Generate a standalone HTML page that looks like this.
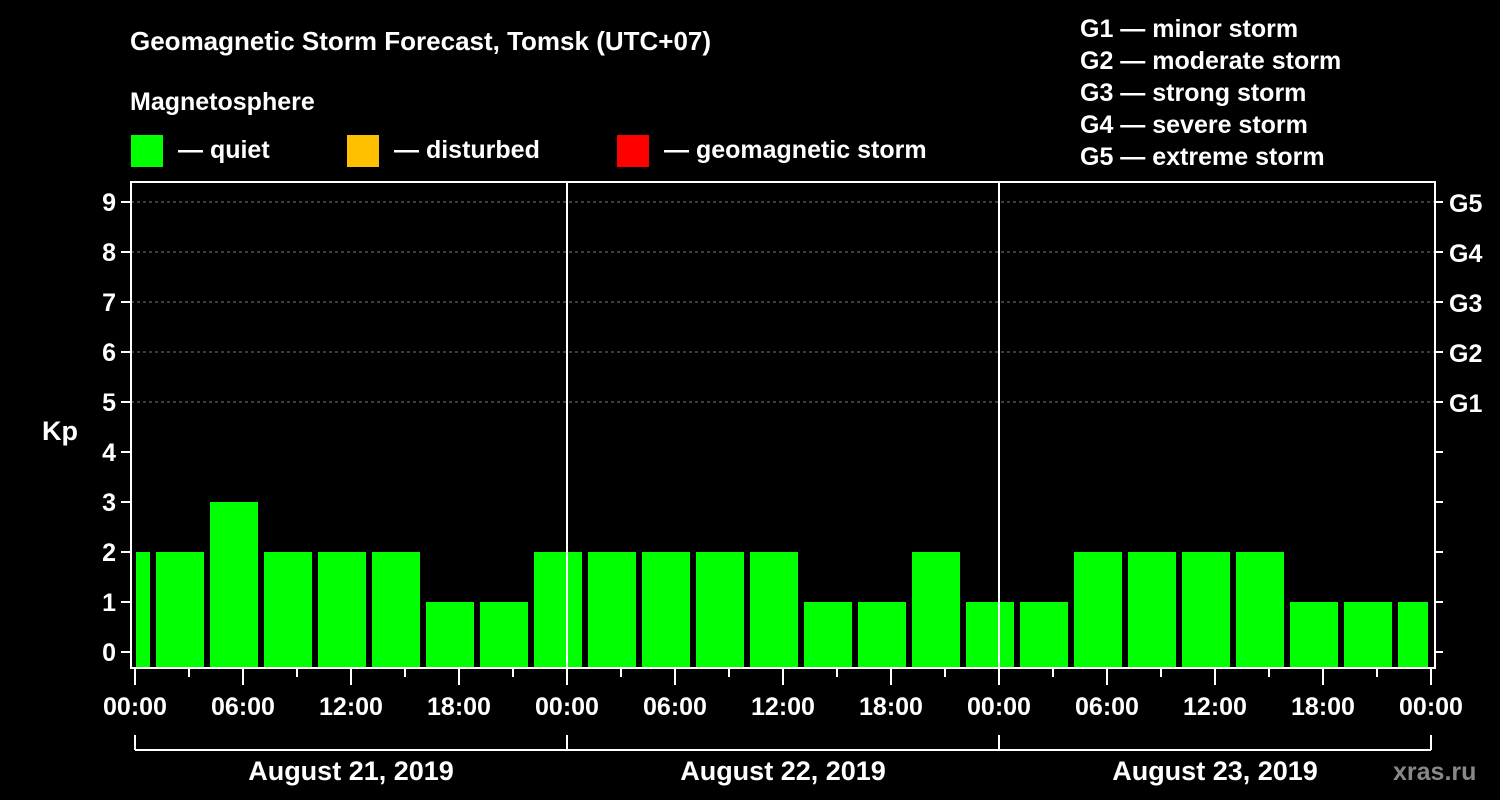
<!DOCTYPE html>
<html><head><meta charset="utf-8"><style>
html,body{margin:0;padding:0;background:#000;}
svg{display:block;font-family:"Liberation Sans",Arial,sans-serif;font-weight:bold;}
</style></head><body>
<svg id="c" width="1500" height="800" viewBox="0 0 1500 800">
<rect width="1500" height="800" fill="#000"/>
<text x="130" y="50" fill="#fff" font-size="26">Geomagnetic Storm Forecast, Tomsk (UTC+07)</text>
<text x="130" y="110" fill="#fff" font-size="25">Magnetosphere</text>
<g><rect x="131" y="135" width="32" height="32" fill="#00ff00"/><text x="178" y="158" fill="#fff" font-size="25">— quiet</text></g>
<g><rect x="347" y="135" width="32" height="32" fill="#ffc000"/><text x="394" y="158" fill="#fff" font-size="25">— disturbed</text></g>
<g><rect x="617" y="135" width="32" height="32" fill="#ff0000"/><text x="664" y="158" fill="#fff" font-size="25">— geomagnetic storm</text></g>
<g fill="#fff" font-size="25">
<text x="1080" y="37">G1 — minor storm</text>
<text x="1080" y="69">G2 — moderate storm</text>
<text x="1080" y="101">G3 — strong storm</text>
<text x="1080" y="133">G4 — severe storm</text>
<text x="1080" y="165">G5 — extreme storm</text>
</g>
<text x="42" y="440" fill="#fff" font-size="27">Kp</text>
<text x="1393" y="780" fill="#888" font-size="25">xras.ru</text>
<g id="plot"></g>
</svg>
<script>
const kpValues=[2,2,3,2,2,2,1,1,2,2,2,2,2,1,1,2,1,1,2,2,2,2,1,1,1];
const binStartHours=[-2,1,4,7,10,13,16,19,22,25,28,31,34,37,40,43,46,49,52,55,58,61,64,67,70];
const yTicks=[0,1,2,3,4,5,6,7,8,9];
const gLabels=[[5,"G1"],[6,"G2"],[7,"G3"],[8,"G4"],[9,"G5"]];
const xTickLabels=["00:00","06:00","12:00","18:00","00:00","06:00","12:00","18:00","00:00","06:00","12:00","18:00","00:00"];
const dates=["August 21, 2019","August 22, 2019","August 23, 2019"];
const NS="http://www.w3.org/2000/svg";
const X0=135,PX_H=18,Y0=652,PX_K=50,TOP=182,BOT=668,LEFT=131,RIGHT=1435,END=1431;
const x=h=>X0+h*PX_H, y=k=>Y0-k*PX_K;
const g=document.getElementById('plot');
function el(t,a,txt){const e=document.createElementNS(NS,t);for(const k in a)e.setAttribute(k,a[k]);if(txt!==undefined)e.textContent=txt;g.appendChild(e);return e;}
yTicks.forEach(k=>{if(k>=5){const l=el('line',{x1:LEFT,x2:RIGHT,y1:y(k),y2:y(k),stroke:'#777','stroke-dasharray':'3,3'});

}});
binStartHours.forEach((h,i)=>{let a=x(h)+3,b=x(h)+51;a=Math.max(a,X0+1);b=Math.min(b,END-3);
const r=el('rect',{x:a,y:y(kpValues[i]),width:b-a,height:BOT-y(kpValues[i]),fill:'#00ff00'});

});
[1,2].forEach(d=>{const l=el('line',{x1:x(24*d),x2:x(24*d),y1:TOP,y2:BOT,stroke:'#fff','stroke-width':2});

});
const fr=el('rect',{x:LEFT,y:TOP,width:RIGHT-LEFT,height:BOT-TOP,fill:'none',stroke:'#fff','stroke-width':2});


yTicks.forEach(k=>{el('line',{x1:LEFT-10,x2:LEFT,y1:y(k),y2:y(k),stroke:'#fff','stroke-width':2});
el('line',{x1:RIGHT,x2:RIGHT+8,y1:y(k),y2:y(k),stroke:'#fff','stroke-width':2});
const t=el('text',{x:LEFT-15,y:y(k)+9,fill:'#fff','font-size':25,'text-anchor':'end'},String(k));

});
gLabels.forEach(([k,s])=>{const t=el('text',{x:1449,y:y(k)+10,fill:'#fff','font-size':25},s);

});
for(let h=0;h<=72;h+=3){const major=h%6===0;el('line',{x1:x(h),x2:x(h),y1:BOT,y2:BOT+(major?17:9),stroke:'#fff','stroke-width':2});}
xTickLabels.forEach((s,i)=>{const t=el('text',{x:x(i*6),y:715,fill:'#fff','font-size':25,'text-anchor':'middle'},s);

});
el('line',{x1:x(0),x2:END,y1:750,y2:750,stroke:'#fff','stroke-width':2});
[0,1,2,3].forEach(d=>el('line',{x1:x(24*d),x2:x(24*d),y1:735,y2:750,stroke:'#fff','stroke-width':2}));
dates.forEach((s,i)=>{const t=el('text',{x:x(24*i+12),y:780,fill:'#fff','font-size':27,'text-anchor':'middle'},s);

});
</script>
</body></html>
